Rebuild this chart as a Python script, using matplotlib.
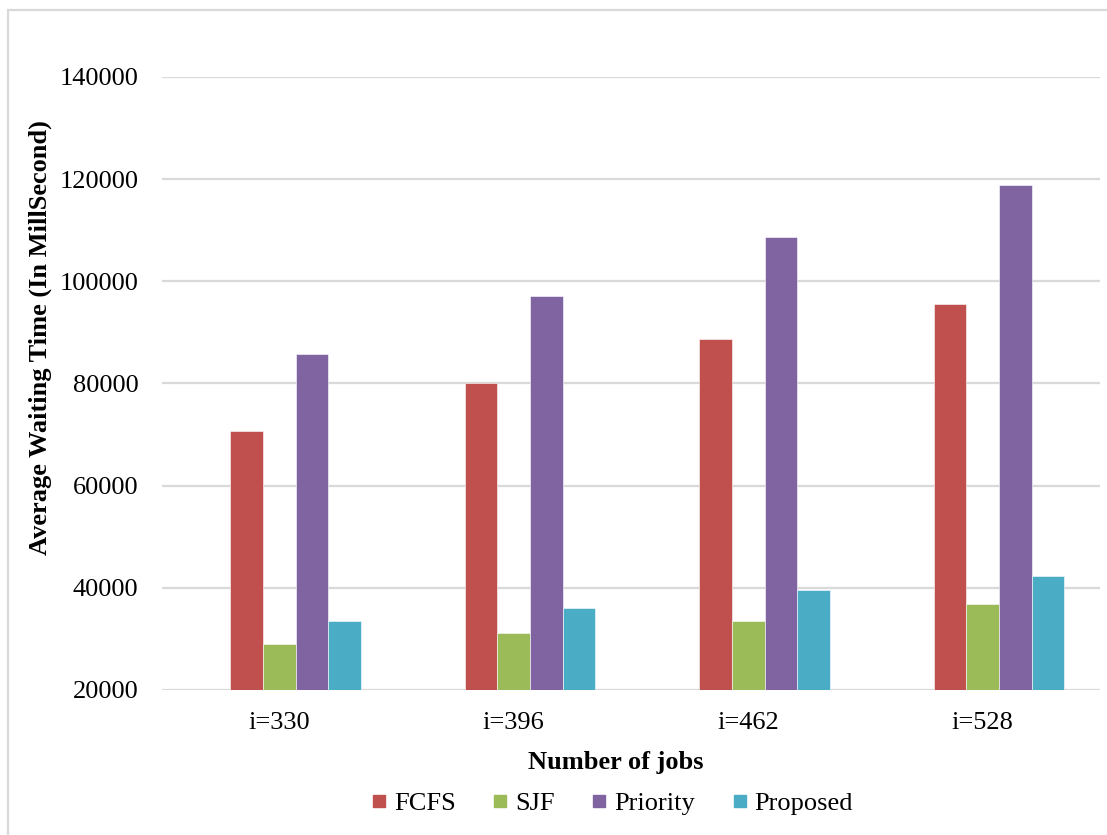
import matplotlib
matplotlib.use("Agg")
import matplotlib.pyplot as plt
from matplotlib.lines import Line2D
from matplotlib.patches import Rectangle
import numpy as np

categories = ["i=330", "i=396", "i=462", "i=528"]
series_names = ["FCFS", "SJF", "Priority", "Proposed"]
fcfs = [70700, 80000, 88800, 95500]
sjf = [29000, 31200, 33500, 36900]
priority = [85800, 97100, 108700, 118800]
proposed = [33600, 36000, 39500, 42400]
yticks = [20000, 40000, 60000, 80000, 100000, 120000, 140000]

colors = ["#C0504D", "#9BBB59", "#8064A2", "#4BACC6"]
grid_color = "#D9D9D9"

plt.rcParams["font.family"] = ["Liberation Serif", "DejaVu Serif"]
FS = 19

W, H = 1107, 835
fig = plt.figure(figsize=(W / 100, H / 100), dpi=100)
ax = fig.add_axes([162 / W, 1 - 690 / H, (1100 - 162) / W, (690 - 77) / H])

x = np.arange(len(categories))
bw = 0.139
for k, (vals, col) in enumerate(zip([fcfs, sjf, priority, proposed], colors)):
    ax.bar(x + (k - 1) * bw, vals, width=bw, bottom=0, color=col,
           edgecolor="white", linewidth=0.4, zorder=3)

ax.set_xlim(-0.5, len(categories) - 0.5)
ax.set_ylim(20000, 140000)
ax.set_yticks(yticks)
ax.set_yticklabels([str(v) for v in yticks], fontsize=FS)
ax.set_xticks(x)
ax.set_xticklabels(categories, fontsize=FS)
ax.tick_params(axis="both", length=0, colors="black")
ax.tick_params(axis="y", pad=17)
ax.tick_params(axis="x", pad=16)
ax.yaxis.grid(True, color=grid_color, linewidth=1.6, zorder=0)
ax.set_axisbelow(True)
for s in ax.spines.values():
    s.set_visible(False)

fig.text(40 / W, 1 - 338 / H, "Average Waiting Time (In MillSecond)",
         rotation=90, ha="center", va="center", fontsize=FS, fontweight="bold")
fig.text(616 / W, 1 - 762 / H, "Number of jobs",
         ha="center", va="center", fontsize=FS, fontweight="bold")

handles = [Line2D([], [], linestyle="none", marker="s", markersize=8.5,
                  markerfacecolor=c, markeredgecolor=c) for c in colors]
fig.legend(handles, series_names, loc="center", ncol=4,
           bbox_to_anchor=(612 / W, 1 - 803 / H), frameon=False,
           fontsize=FS, handlelength=0.6, handletextpad=0.25,
           columnspacing=1.4, borderpad=0)

fig.patches.append(Rectangle((7.5 / W, 0 - 0.05), 1.2, 1 - 10 / H + 0.05,
                             transform=fig.transFigure, fill=False,
                             edgecolor=grid_color, linewidth=1.6))

fig.savefig("out.png", dpi=100, facecolor="white")
